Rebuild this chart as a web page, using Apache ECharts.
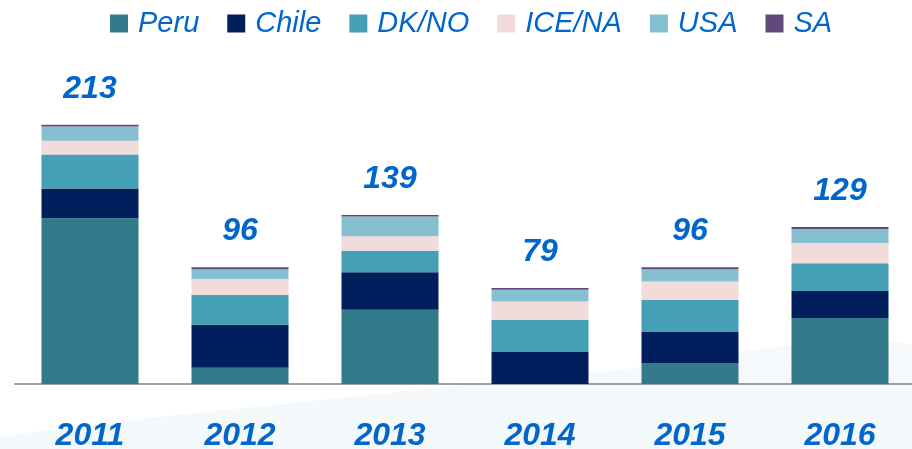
<!DOCTYPE html>
<html>
<head>
<meta charset="utf-8">
<script src="https://cdn.jsdelivr.net/npm/echarts@6/dist/echarts.min.js"></script>
<style>
  html, body { margin: 0; padding: 0; background: #fff; }
  #main { width: 912px; height: 449px; }
</style>
</head>
<body>
<div id="main"></div>
<script>
// data
var years = ['2011', '2012', '2013', '2014', '2015', '2016'];
var peru = [136.2, 13.3, 61.1, 0, 16.9, 54.3];
var chile = [24.4, 35.3, 30.7, 26.2, 25.9, 22.1];
var dkno = [28.0, 24.5, 17.8, 26.4, 26.5, 22.9];
var icena = [11.3, 13.2, 11.8, 15.2, 14.9, 16.6];
var usa = [11.7, 8.1, 16.2, 9.6, 10.2, 11.5];
var sa = [1.4, 1.6, 1.4, 1.6, 1.6, 1.6];
var totals = [213, 96, 139, 79, 96, 129];

var blue = '#0066cc';
var font = "'Liberation Sans', Arial, sans-serif";

function bar(name, data, color) {
  return {
    name: name,
    type: 'bar',
    stack: 'total',
    barWidth: 97,
    itemStyle: { color: color },
    data: data
  };
}

var series = [
  bar('Peru', peru, '#337a8a'),
  bar('Chile', chile, '#001f5c'),
  bar('DK/NO', dkno, '#459fb6'),
  bar('ICE/NA', icena, '#f2dcdb'),
  bar('USA', usa, '#86bfd0'),
  bar('SA', sa, '#604a7b')
];
// totals on top of the last stack
series[5].label = {
  show: true,
  position: 'top',
  distance: 20,
  formatter: function (p) { return totals[p.dataIndex]; },
  color: blue,
  fontFamily: font,
  fontSize: 32,
  fontWeight: 'bold',
  fontStyle: 'italic'
};

var chart = echarts.init(document.getElementById('main'));
var option = {
  animation: false,
  graphic: [{
    type: 'polygon',
    z: -10,
    silent: true,
    shape: {
      smooth: 0.3,
      points: [[0, 437], [320, 400], [600, 372], [912, 345], [912, 449], [0, 449]]
    },
    style: {
      fill: new echarts.graphic.LinearGradient(0, 0, 0, 1, [
        { offset: 0, color: '#f5f9fc' },
        { offset: 1, color: '#f3f8fb' }
      ])
    }
  }],
  legend: {
    left: 110,
    top: 9,
    padding: 0,
    icon: 'rect',
    itemWidth: 18,
    itemHeight: 18,
    itemGap: 28,
    textStyle: {
      color: blue,
      fontFamily: font,
      fontSize: 29,
      fontStyle: 'italic',
      padding: [0, 0, 0, 5]
    }
  },
  grid: { left: 15, width: 900, top: 92, bottom: 65, outerBoundsMode: 'none' },
  xAxis: {
    type: 'category',
    data: years,
    axisTick: { show: false },
    axisLine: { lineStyle: { color: '#a0a0a0', width: 2 } },
    axisLabel: {
      margin: 36,
      color: blue,
      fontFamily: font,
      fontSize: 32,
      fontWeight: 'bold',
      fontStyle: 'italic'
    }
  },
  yAxis: {
    type: 'value',
    min: 0,
    max: 240,
    show: false,
    splitLine: { show: false }
  },
  series: series
};
chart.setOption(option);
</script>
</body>
</html>
